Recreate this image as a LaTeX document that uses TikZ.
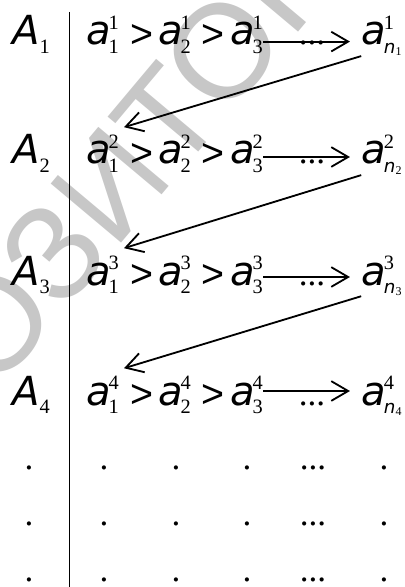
\documentclass[tikz,border=0pt]{standalone}
\usepackage{fontspec}
\usepackage{tikz}
\usetikzlibrary{arrows.meta,positioning,calc}
\newfontfamily\lett{DejaVu Sans}
\newfontfamily\wmf{Liberation Sans}
\newfontfamily\idxf{Liberation Serif}
\newcommand\idx{\idxf\fontsize{14.5pt}{16pt}\selectfont}
\newcommand\nsub[1]{{\lett\itshape\fontsize{13pt}{15pt}\selectfont n}\raisebox{-2pt}{\idxf\fontsize{8.5pt}{9pt}\selectfont #1}}
\newcommand\ael[2]{{\lett\itshape a}\kern-1.5pt\rlap{\raisebox{10.7pt}{\idx #1}}\raisebox{-5.7pt}{\idx #2}}
\newcommand\Ael[1]{{\lett\itshape A}\raisebox{-5.7pt}{\idx #1}}
\tikzset{el/.style={inner sep=0pt,anchor=base west,font=\fontsize{28.5pt}{30pt}\selectfont},
 gt/.style={inner sep=0pt,font=\wmf\fontsize{28pt}{30pt}\selectfont},
 dt/.style={inner sep=0pt,font=\idxf\fontsize{25pt}{27pt}\selectfont},
 wm/.style={text=black!22,font=\wmf\fontsize{95pt}{97pt}\selectfont,rotate=50},
 flow/.style={-{Straight Barb[length=12pt,width=14pt]},line width=1.3pt},
 wire/.style={line width=1pt}}
\begin{document}
\begin{tikzpicture}
\useasboundingbox (0,0) rectangle (10.1,-14.675);
\node[wm] (wmk) at (2.5,-4.4) {РЕПОЗИТОРИЙ};
\draw[wire] (1.735,-.3) -- (1.735,-14.675);
\foreach \r/\yb/\ya in {1/-1.125/-1.04,2/-4.1/-3.925,3/-7.125/-6.925,4/-10.125/-9.775}{
 \node[el] (A\r) at (.3,\yb) {\Ael{\r}};
 \node[el] (a\r1) at (2.15,\yb) {\ael{\r}{1}};
 \node[gt] (g\r1) at (3.55,\yb+.22) {>};
 \node[el] (a\r2) at (3.95,\yb) {\ael{\r}{2}};
 \node[gt] (g\r2) at (5.33,\yb+.22) {>};
 \node[el] (a\r3) at (5.75,\yb) {\ael{\r}{3}};
 \node[dt,anchor=base] (d\r) at (7.8,\yb) {...};
 \node[el] (an\r) at (9.03,\yb) {\ael{\r}{\nsub{\r}}};
 \draw[flow,shorten >=8pt] (a\r3.east |- 0,\ya) -- (an\r.west |- 0,\ya);}
\foreach \r/\s in {1/2,2/3,3/4}
 \draw[flow] (an\r.south west) -- ([shift={(.12,.2)}]a\s1.north east);
% rows of dots below
\foreach \y [count=\j] in {-11.7,-13.1,-14.5}{
 \foreach \x [count=\i] in {.725,2.6,4.4,6.175,9.6}
  \node[dt] (p\j\i) at (\x,\y) {.};
 \node[dt] (q\j) at (7.825,\y) {...};}
\end{tikzpicture}
\end{document}
